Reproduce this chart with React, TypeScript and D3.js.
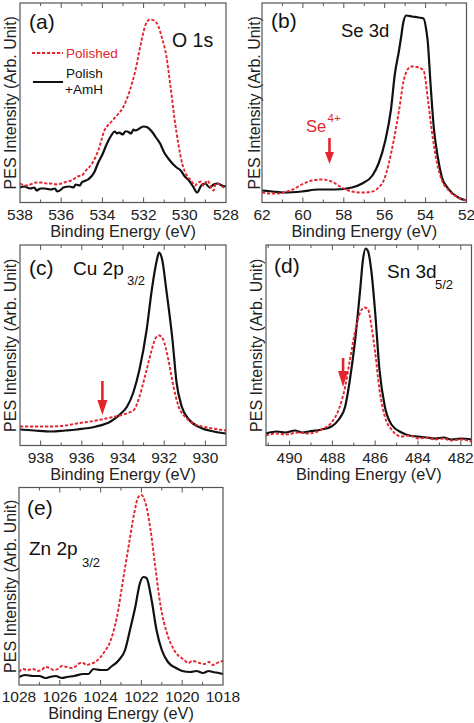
import React from "react";
import * as d3 from "d3";

type Pt = [number, number];

// ---------- (a) O 1s ----------
const o1sPolished: Pt[] = [
  [538, 19], [537.7, 17], [537.5, 18], [537.2, 20], [537, 20], [536.7, 19], [536.5, 19], [536.2, 18], [536, 19],
  [535.7, 21], [535.5, 22], [535.2, 26], [535, 27], [534.8, 32], [534.5, 39], [534.2, 52], [533.9, 72],
  [533.6, 80], [533.3, 87], [533.0, 95], [532.7, 110], [532.4, 132], [532.1, 162], [531.9, 178],
  [531.7, 183], [531.5, 182], [531.3, 177], [531.1, 164], [530.9, 147], [530.7, 117], [530.5, 84],
  [530.3, 57], [530.1, 37], [529.9, 27], [529.7, 22], [529.5, 17], [529.4, 19], [529.2, 21], [529.1, 17],
  [528.9, 22], [528.8, 19], [528.7, 14], [528.6, 12], [528.5, 19], [528.3, 18], [528.1, 15], [528, 16],
];
const o1sAmH: Pt[] = [
  [538, 15], [537.8, 16], [537.5, 14], [537.3, 15], [537.2, 12], [537, 14], [536.8, 14], [536.5, 13],
  [536.3, 14], [536.2, 11], [536, 13], [535.9, 15], [535.6, 16], [535.4, 15], [535.3, 18], [535.1, 17],
  [535.0, 20], [534.7, 23], [534.4, 30], [534.2, 40], [534.0, 48], [533.8, 58], [533.6, 66], [533.4, 71],
  [533.3, 69], [533.2, 70], [533.0, 68], [532.9, 71], [532.8, 71], [532.6, 69], [532.5, 73], [532.4, 72],
  [532.2, 74], [532.0, 76], [531.8, 75], [531.6, 71], [531.4, 65], [531.2, 59], [531.0, 50], [530.8, 44],
  [530.6, 39], [530.4, 35], [530.2, 32], [530.0, 26], [529.8, 22], [529.6, 16], [529.4, 10], [529.2, 17],
  [529.0, 19], [528.8, 15], [528.6, 18], [528.4, 19], [528.2, 17], [528, 16],
];

// ---------- (b) Se 3d ----------
const se3dPolished: Pt[] = [
  [62, 10], [61.6, 9], [61.2, 9], [60.8, 11], [60.5, 13], [60.05, 18], [59.57, 22], [59.07, 23],
  [58.6, 21], [58.1, 15], [57.6, 11], [57.1, 10], [56.6, 11], [56.3, 15], [56.05, 22], [55.8, 39],
  [55.56, 62], [55.3, 92], [55.07, 122], [54.8, 135], [54.67, 136], [54.34, 135], [54.1, 132],
  [53.88, 102], [53.68, 69], [53.44, 39], [53.2, 22], [52.87, 12], [52.4, 5], [52, 2],
];
const se3dAmH: Pt[] = [
  [62, 12], [61.5, 11], [60.9, 10], [60.05, 11], [59.25, 13], [58.4, 13], [57.6, 15], [57.1, 19],
  [56.6, 27], [56.3, 39], [55.97, 62], [55.7, 92], [55.5, 129], [55.3, 152], [55.2, 165], [55.1, 179],
  [54.95, 187], [54.66, 186], [54.35, 185], [54.1, 184], [53.95, 170], [53.9, 162], [53.76, 119],
  [53.6, 75], [53.4, 45], [53.2, 25], [52.9, 14], [52.4, 5], [52, 2],
];

// ---------- (c) Cu 2p3/2 ----------
const cu2pPolished: Pt[] = [
  [939, 19], [938.2, 19], [937.5, 19], [936.8, 20], [936.25, 22], [935.3, 25], [934.6, 28], [934.15, 30],
  [933.7, 33], [933.45, 36], [933.2, 49], [932.85, 76], [932.6, 96], [932.4, 108], [932.24, 110],
  [932.05, 106], [931.8, 86], [931.55, 59], [931.3, 39], [930.95, 28], [930.6, 22], [929.9, 18], [929, 15],
];
const cu2pAmH: Pt[] = [
  [939, 16], [938.3, 15], [937.5, 14], [936.8, 15], [936.25, 16], [935.3, 19], [934.6, 24], [934.15, 31],
  [933.8, 39], [933.5, 53], [933.2, 76], [932.85, 116], [932.6, 156], [932.35, 186], [932.25, 193],
  [932.1, 186], [931.9, 156], [931.6, 106], [931.4, 63], [931.15, 39], [930.8, 26], [930.25, 18],
  [929.6, 14], [929, 12],
];

// ---------- (d) Sn 3d5/2 ----------
const sn3dPolished: Pt[] = [
  [491.1, 10], [490.6, 12], [490.2, 11], [489.6, 13], [489.1, 12], [488.5, 16], [488.04, 23], [487.7, 36],
  [487.4, 59], [487.2, 83], [486.95, 113], [486.7, 133], [486.5, 138], [486.33, 136], [486.17, 119],
  [486.0, 93], [485.8, 56], [485.55, 29], [485.24, 16], [484.77, 9], [484.4, 10], [484.0, 7], [483.6, 8],
  [483.2, 6], [482.8, 7], [482.45, 5], [482, 6], [481.5, 4],
];
const sn3dAmH: Pt[] = [
  [491.1, 12], [490.6, 14], [490.2, 13], [489.75, 15], [489.4, 13], [489.1, 14], [488.5, 16], [488.04, 19],
  [487.7, 26], [487.4, 39], [487.2, 63], [486.95, 103], [486.7, 156], [486.57, 186], [486.44, 197],
  [486.33, 194], [486.17, 173], [486.0, 133], [485.8, 76], [485.55, 39], [485.24, 21], [484.77, 13],
  [484.4, 10], [484.0, 9], [483.6, 8], [483.2, 7], [482.8, 8], [482.45, 6], [482, 7], [481.5, 6],
];

// ---------- (e) Zn 2p3/2 ----------
const zn2pPolished: Pt[] = [
  [1028, 13], [1027.8, 16], [1027.6, 15], [1027.3, 16], [1027.1, 14], [1026.9, 15], [1026.7, 18],
  [1026.5, 17], [1026.3, 15], [1026.1, 16], [1025.9, 19], [1025.65, 18], [1025.4, 17], [1025.2, 19],
  [1025.0, 22], [1024.85, 22], [1024.7, 20], [1024.5, 21], [1024.2, 24], [1023.85, 32], [1023.5, 45],
  [1023.2, 68], [1022.9, 105], [1022.6, 142], [1022.35, 172], [1022.15, 188], [1022.0, 190],
  [1021.8, 182], [1021.55, 155], [1021.3, 115], [1021.05, 78], [1020.75, 52], [1020.4, 35],
  [1019.9, 25], [1019.7, 22], [1019.5, 24], [1019.15, 22], [1018.9, 21], [1018.7, 23], [1018.5, 20],
  [1018.3, 22], [1018, 24],
];
const zn2pAmH: Pt[] = [
  [1028, 8], [1027.7, 10], [1027.3, 9], [1027.0, 9], [1026.7, 7], [1026.5, 8], [1026.2, 9], [1025.9, 7],
  [1025.65, 8], [1025.3, 9], [1024.85, 11], [1024.6, 11], [1024.35, 16], [1024.0, 15], [1023.7, 15],
  [1023.5, 18], [1023.1, 25], [1022.8, 35], [1022.56, 55], [1022.3, 78], [1022.07, 102], [1021.9, 108],
  [1021.75, 107], [1021.5, 85], [1021.26, 55], [1021.0, 35], [1020.7, 23], [1020.3, 17], [1020.0, 14],
  [1019.6, 13], [1019.3, 14], [1018.98, 12], [1018.7, 14], [1018.5, 13], [1018.2, 12], [1018, 11],
];

// tick values
const ticksA = [538, 536, 534, 532, 530, 528];
const ticksB = [62, 60, 58, 56, 54, 52];
const ticksC = [938, 936, 934, 932, 930];
const ticksD = [490, 488, 486, 484, 482];
const ticksE = [1028, 1026, 1024, 1022, 1020, 1018];

const RED = "#e3262d";
const BLACK = "#111";
const FRAME = "#555";
const FONT = "'Liberation Sans', Arial, Helvetica, sans-serif";

type Box = { x0: number; x1: number; y0: number; y1: number };

type PanelProps = {
  id: string;
  box: Box;
  xDomain: [number, number];
  yMax: number;
  ticks: number[];
  polished: Pt[];
  amh: Pt[];
  yLabelX: number;
  extra?: (x: d3.ScaleLinear<number, number>) => React.ReactNode;
};

function Panel({ id, box, xDomain, yMax, ticks, polished, amh, yLabelX, extra }: PanelProps) {
  const x = d3.scaleLinear().domain(xDomain).range([box.x0, box.x1]);
  const y = d3.scaleLinear().domain([0, yMax]).range([box.y1, box.y0]);
  const line = d3
    .line<Pt>()
    .x((d) => x(d[0]))
    .y((d) => y(d[1]))
    .curve(d3.curveMonotoneX);
  const lo = Math.ceil(Math.min(...xDomain));
  const hi = Math.floor(Math.max(...xDomain));
  const allTicks = d3.range(lo, hi + 1);
  const cy = (box.y0 + box.y1) / 2;
  const cx = (box.x0 + box.x1) / 2;
  return (
    <g>
      <defs>
        <clipPath id={`clip-${id}`}>
          <rect x={box.x0} y={box.y0} width={box.x1 - box.x0} height={box.y1 - box.y0} />
        </clipPath>
      </defs>
      <text
        transform={`translate(${yLabelX},${cy}) rotate(-90)`}
        textAnchor="middle"
        fontSize={16}
        fontFamily={FONT}
        fill="#222"
      >
        PES Intensity (Arb. Unit)
      </text>
      <g clipPath={`url(#clip-${id})`}>
        <path d={line(amh) || ""} fill="none" stroke={BLACK} strokeWidth={2.2} strokeLinejoin="round" />
        <path
          d={line(polished) || ""}
          fill="none"
          stroke={RED}
          strokeWidth={1.9}
          strokeDasharray="3.2,1.8"
        />
      </g>
      <rect
        x={box.x0}
        y={box.y0}
        width={box.x1 - box.x0}
        height={box.y1 - box.y0}
        fill="none"
        stroke={FRAME}
        strokeWidth={1.2}
      />
      {allTicks.map((t) => {
        const len = t % 2 === 0 ? 5 : 3;
        const xx = x(t);
        if (xx < box.x0 + 0.5 || xx > box.x1 - 0.5) return null;
        return (
          <g key={t} stroke={FRAME} strokeWidth={1}>
            <line x1={xx} x2={xx} y1={box.y1} y2={box.y1 - len} />
            <line x1={xx} x2={xx} y1={box.y0} y2={box.y0 + len} />
          </g>
        );
      })}
      {ticks.map((t) => (
        <text
          key={t}
          x={x(t)}
          y={box.y1 + 17}
          textAnchor="middle"
          fontSize={15.5}
          fontFamily={FONT}
          fill="#222"
        >
          {t}
        </text>
      ))}
      <text x={cx} y={box.y1 + 34} textAnchor="middle" fontSize={16.3} fontFamily={FONT} fill="#222">
        Binding Energy (eV)
      </text>
      {extra && extra(x)}
    </g>
  );
}

function Arrow({ x, y0, y1, headLen = 11, headW = 9 }: { x: number; y0: number; y1: number; headLen?: number; headW?: number }) {
  return (
    <g>
      <line x1={x} x2={x} y1={y0} y2={y1 - headLen + 1} stroke={RED} strokeWidth={2.6} />
      <path d={`M${x - headW / 2},${y1 - headLen} L${x + headW / 2},${y1 - headLen} L${x},${y1} Z`} fill={RED} />
    </g>
  );
}

export default function App() {
  const lbl = { fontFamily: FONT, fill: "#111" } as const;
  return (
    <svg
      width={474}
      height={723}
      viewBox="0 0 474 723"
      style={{ position: "absolute", left: 0, top: 0, background: "#fff" }}
    >
      <rect width={474} height={723} fill="#fff" />
      {/* (a) */}
      <Panel
        id="a"
        box={{ x0: 20, x1: 226, y0: 3, y1: 202.5 }}
        xDomain={[538, 528]}
        yMax={199.5}
        ticks={ticksA}
        polished={o1sPolished}
        amh={o1sAmH}
        yLabelX={16}
        extra={() => (
          <g>
            <text x={29} y={29} fontSize={21} {...lbl}>(a)</text>
            <text x={172} y={47} fontSize={19.5} {...lbl}>O 1s</text>
            <line x1={32} x2={63} y1={53} y2={53} stroke={RED} strokeWidth={1.9} strokeDasharray="3.2,1.8" />
            <text x={66} y={57.5} fontSize={13.5} fontFamily={FONT} fill={RED}>Polished</text>
            <line x1={33} x2={63} y1={82} y2={82} stroke={BLACK} strokeWidth={2} />
            <text x={66} y={78} fontSize={13.5} {...lbl}>Polish</text>
            <text x={65} y={94} fontSize={13.5} {...lbl}>+AmH</text>
          </g>
        )}
      />
      {/* (b) */}
      <Panel
        id="b"
        box={{ x0: 262, x1: 466.5, y0: 3, y1: 202.5 }}
        xDomain={[62, 52]}
        yMax={199.5}
        ticks={ticksB}
        polished={se3dPolished}
        amh={se3dAmH}
        yLabelX={260}
        extra={(x) => (
          <g>
            <text x={271} y={28} fontSize={21} {...lbl}>(b)</text>
            <text x={341} y={37} fontSize={18.5} {...lbl}>Se 3d</text>
            <text x={306} y={132} fontSize={16.5} fontFamily={FONT} fill={RED}>Se</text>
            <text x={327.5} y={122} fontSize={11.5} fontFamily={FONT} fill={RED}>4+</text>
            <Arrow x={x(58.7)} y0={138} y1={164} headLen={12} />
          </g>
        )}
      />
      {/* (c) */}
      <Panel
        id="c"
        box={{ x0: 20, x1: 226, y0: 245, y1: 445.5 }}
        xDomain={[939, 929]}
        yMax={200.5}
        ticks={ticksC}
        polished={cu2pPolished}
        amh={cu2pAmH}
        yLabelX={16}
        extra={(x) => (
          <g>
            <text x={29} y={275} fontSize={21} {...lbl}>(c)</text>
            <text x={73} y={275} fontSize={19} {...lbl}>Cu 2p</text>
            <text x={127} y={285} fontSize={13} {...lbl}>3/2</text>
            <Arrow x={x(935)} y0={381} y1={415} headLen={15} headW={10} />
          </g>
        )}
      />
      {/* (d) */}
      <Panel
        id="d"
        box={{ x0: 266, x1: 471.5, y0: 245, y1: 445.5 }}
        xDomain={[491.1, 481.5]}
        yMax={200.5}
        ticks={ticksD}
        polished={sn3dPolished}
        amh={sn3dAmH}
        yLabelX={262}
        extra={(x) => (
          <g>
            <text x={274} y={273} fontSize={21} {...lbl}>(d)</text>
            <text x={387} y={278} fontSize={19} {...lbl}>Sn 3d</text>
            <text x={435} y={289} fontSize={13} {...lbl}>5/2</text>
            <Arrow x={x(487.5)} y0={358} y1={387} headLen={16} headW={10} />
          </g>
        )}
      />
      {/* (e) */}
      <Panel
        id="e"
        box={{ x0: 19, x1: 223, y0: 487.5, y1: 685 }}
        xDomain={[1028, 1018]}
        yMax={197.5}
        ticks={ticksE}
        polished={zn2pPolished}
        amh={zn2pAmH}
        yLabelX={16}
        extra={() => (
          <g>
            <text x={27} y={515} fontSize={21} {...lbl}>(e)</text>
            <text x={29} y={555} fontSize={19} {...lbl}>Zn 2p</text>
            <text x={82} y={567} fontSize={13} {...lbl}>3/2</text>
          </g>
        )}
      />
    </svg>
  );
}
